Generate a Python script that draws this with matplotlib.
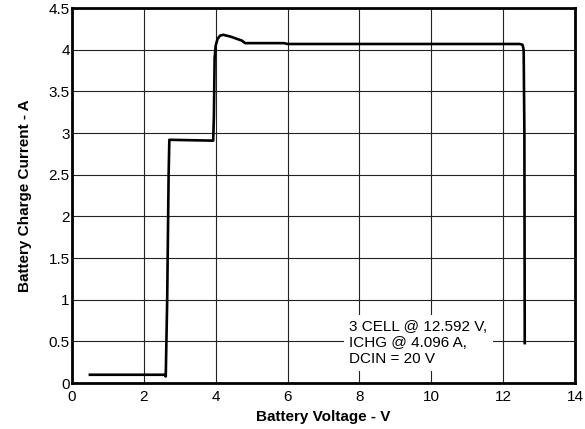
import matplotlib
matplotlib.use('Agg')
import matplotlib.pyplot as plt
from matplotlib.ticker import FormatStrFormatter

plt.rcParams['font.family'] = ['Liberation Sans', 'DejaVu Sans']

# battery voltage (V) and charge current (A)
volts = [0.5, 2.58, 2.61, 2.65, 2.69, 2.71, 3.93, 3.95, 3.97, 4.0, 4.05, 4.12, 4.21, 4.4, 4.6, 4.73, 4.82, 5.9, 6.0, 12.46, 12.54, 12.57, 12.59, 12.6]
amps = [0.1, 0.1, 0.08, 1.0, 2.5, 2.92, 2.91, 3.2, 3.9, 4.05, 4.13, 4.17, 4.18, 4.16, 4.13, 4.11, 4.08, 4.08, 4.07, 4.07, 4.06, 4.0, 3.0, 0.48]

xticks = [0, 2, 4, 6, 8, 10, 12, 14]
yticks = [0, 0.5, 1, 1.5, 2, 2.5, 3, 3.5, 4, 4.5]
note = '3 CELL @ 12.592 V,\nICHG @ 4.096 A,\nDCIN = 20 V'

fig = plt.figure(figsize=(5.85, 4.29), dpi=100)
ax = fig.add_axes([0.123, 0.107, 0.860, 0.874])

ax.plot(volts, amps, color='black', lw=1.9, solid_joinstyle='round')

ax.set_xlim(0, 14)
ax.set_ylim(0, 4.5)
ax.set_xticks(xticks)
ax.set_yticks(yticks)
ax.yaxis.set_major_formatter(FormatStrFormatter('%g'))
ax.grid(True, color='#222222', lw=0.8)
ax.tick_params(length=0, labelsize=11)
ax.tick_params(axis='x', pad=5)
ax.tick_params(axis='y', pad=1.5)
for s in ax.spines.values():
    s.set_linewidth(2)

ax.set_xlabel('Battery Voltage - V', fontsize=11, fontweight='bold', labelpad=4.5)
ax.set_ylabel('Battery Charge Current - A', fontsize=11, fontweight='bold', labelpad=12)

# multi-line text: baseline refers to the last line here
ax.text(7.71, 0.245, note, fontsize=11, va='baseline', ha='left', linespacing=1.15,
        bbox=dict(facecolor='white', edgecolor='none', pad=4))

fig.savefig('out.png', dpi=100)
